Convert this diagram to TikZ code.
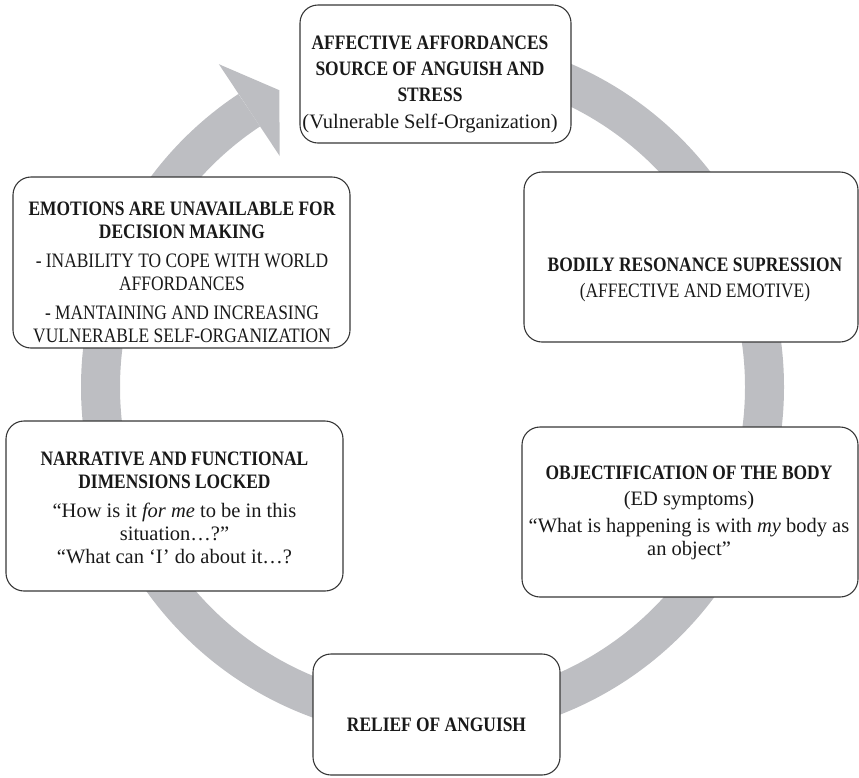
\documentclass[tikz,border=0pt]{standalone}
\usepackage{fontspec}
\setmainfont{Liberation Serif}
\newfontfamily\capsfont[FakeStretch=0.85]{Liberation Serif}
\usepackage{tikz}

\definecolor{ringgray}{RGB}{189,190,194}
\definecolor{boxline}{RGB}{55,55,55}
\newcommand{\boxhead}[1]{{\capsfont\bfseries #1}}
\newcommand{\boxcaps}[1]{{\capsfont #1}}

\begin{document}
\begin{tikzpicture}[x=1pt, y=-1pt,
  ring/.style={line width=39pt, color=ringgray},
  box/.style={draw=boxline, line width=1.1pt, fill=white, rounded corners=18pt, inner sep=0pt},
  txt/.style={align=center, inner sep=0pt, text=black!90, font=\fontsize{20.5}{23}\selectfont}]
\useasboundingbox (0,0) rectangle (859,777);

\coordinate (ctr) at (432.5,387);
\draw[ring] (432.5,55) arc[start angle=-90, end angle=236.5, radius=332] coordinate (tail);
\fill[ringgray] (218.9,64.2) -- (279.3,90.2) -- (279.7,156.0) -- cycle;

\node[box, minimum width=271, minimum height=138] (affords) at (435.5,74) {};
\node[box, minimum width=337, minimum height=171] (emotions) at (181.5,262.5) {};
\node[box, minimum width=334, minimum height=170] (bodily) at (691,257) {};
\node[box, minimum width=337, minimum height=170] (narrative) at (174.5,506) {};
\node[box, minimum width=336, minimum height=170] (objectify) at (690,512) {};
\node[box, minimum width=247, minimum height=121] (relief) at (436.5,714.5) {};

\node[txt] (affordsTxt) at (430,84) {\boxhead{AFFECTIVE AFFORDANCES}\\[3pt] \boxhead{SOURCE OF ANGUISH AND}\\[3pt] \boxhead{STRESS}\\[4pt] (Vulnerable Self-Organization)};
\node[txt] (emotionsTxt) at (182,272) {\boxhead{EMOTIONS ARE UNAVAILABLE FOR}\\ \boxhead{DECISION MAKING}\\[6pt] \boxcaps{- INABILITY TO COPE WITH WORLD}\\ \boxcaps{AFFORDANCES}\\[6pt] \boxcaps{- MANTAINING AND INCREASING}\\ \boxcaps{VULNERABLE SELF-ORGANIZATION}};
\node[txt] (bodilyTxt) at (695,280) {\boxhead{BODILY RESONANCE SUPRESSION}\\[3pt] \boxcaps{(AFFECTIVE AND EMOTIVE)}};
\node[txt] (narrativeTxt) at (174.5,508) {\boxhead{NARRATIVE AND FUNCTIONAL}\\ \boxhead{DIMENSIONS LOCKED}\\[6pt] “How is it \textit{for me} to be in this\\ situation…?”\\ “What can ‘I’ do about it…?};
\node[txt] (objectifyTxt) at (689,512.5) {\boxhead{OBJECTIFICATION OF THE BODY}\\[3pt] (ED symptoms)\\[4pt] “What is happening is with \textit{my} body as\\ an object”};
\node[txt] (reliefTxt) at (436.5,725) {\boxhead{RELIEF OF ANGUISH}};
\end{tikzpicture}
\end{document}
